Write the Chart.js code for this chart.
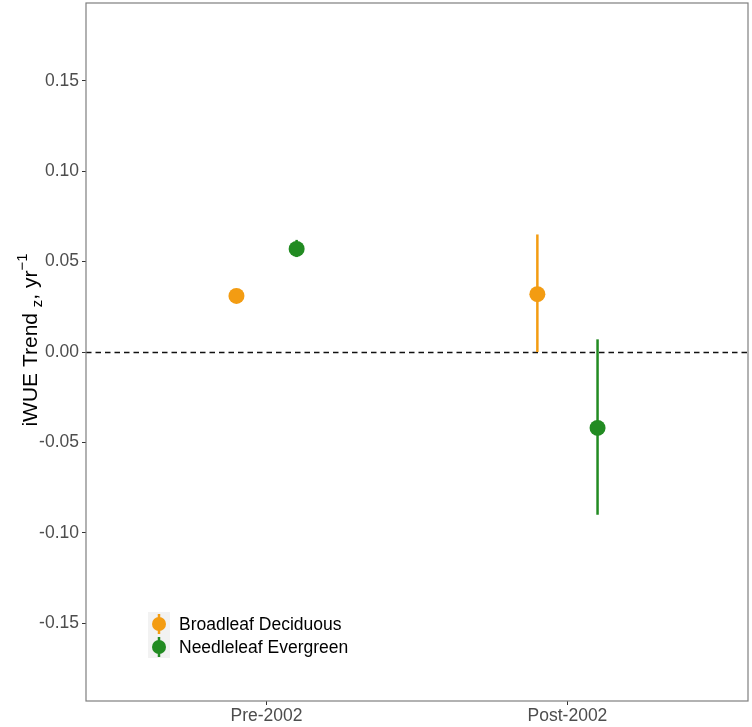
<!DOCTYPE html>
<html>
<head>
<meta charset="utf-8">
<script src="https://cdn.jsdelivr.net/npm/chart.js@4"></script>
<style>
  html, body { margin: 0; padding: 0; background: #fff; }
  #wrap { width: 752px; height: 727px; }
</style>
</head>
<body>
<div id="wrap"><canvas id="myChart" width="752" height="727"></canvas></div>
<script>
// chart data
const categories = ['Pre-2002', 'Post-2002'];
const groups = ['Broadleaf Deciduous', 'Needleleaf Evergreen'];
const broadleafMean = [0.031, 0.032];
const broadleafLow = [0.030, 0.000];
const broadleafHigh = [0.032, 0.065];
const needleMean = [0.057, -0.042];
const needleLow = [0.0525, -0.090];
const needleHigh = [0.062, 0.007];
const yTicks = [-0.15, -0.10, -0.05, 0.00, 0.05, 0.10, 0.15];

const colors = ['#F39C12', '#228B22'];
const dodge = [-0.1, 0.1];
const fontFamily = '"Liberation Sans", Arial, sans-serif';

function makePoints(mean, low, high, k) {
    return mean.map((m, i) => ({ x: i + 1 + dodge[k], y: m, lo: low[i], hi: high[i] }));
}

// error bars + zero line + panel border
const extras = {
    id: 'extras',
    beforeDatasetsDraw(chart) {
        const ctx = chart.ctx, area = chart.chartArea;
        const xs = chart.scales.x, ys = chart.scales.y;
        ctx.save();
        // dashed zero line
        const y0 = Math.round(ys.getPixelForValue(0)) + 0.5;
        ctx.strokeStyle = '#111';
        ctx.lineWidth = 1.3;
        ctx.setLineDash([5.5, 4]);
        ctx.beginPath();
        ctx.moveTo(area.left, y0);
        ctx.lineTo(area.right, y0);
        ctx.stroke();
        ctx.setLineDash([]);
        chart.data.datasets.forEach((ds, k) => {
            ctx.strokeStyle = colors[k];
            ctx.lineWidth = 2.5;
            ds.data.forEach(p => {
                const px = xs.getPixelForValue(p.x);
                ctx.beginPath();
                ctx.moveTo(px, ys.getPixelForValue(p.lo));
                ctx.lineTo(px, ys.getPixelForValue(p.hi));
                ctx.stroke();
            });
        });
        ctx.restore();
    },
    afterDraw(chart) {
        const ctx = chart.ctx, area = chart.chartArea;
        ctx.save();
        ctx.strokeStyle = '#7f7f7f';
        ctx.lineWidth = 1.2;
        ctx.strokeRect(area.left, area.top, area.right - area.left, area.bottom - area.top);

        // y axis title with subscript and superscript
        ctx.translate(29, 340);
        ctx.rotate(-Math.PI / 2);
        ctx.fillStyle = '#000';
        ctx.textBaseline = 'alphabetic';
        const big = '21px ' + fontFamily;
        const small = '15px ' + fontFamily;
        const parts = [
            { t: 'iWUE Trend ', f: big, dy: 0 },
            { t: 'z', f: small, dy: 5 },
            { t: ', yr', f: big, dy: 0 },
            { t: '\u22121', f: small, dy: -10 }
        ];
        let w = 0;
        parts.forEach(p => { ctx.font = p.f; w += ctx.measureText(p.t).width; });
        let x = -w / 2;
        parts.forEach(p => {
            ctx.font = p.f;
            ctx.fillText(p.t, x, 8 + p.dy);
            x += ctx.measureText(p.t).width;
        });
        ctx.restore();

        // legend inside panel
        ctx.save();
        ctx.fillStyle = '#F2F2F2';
        ctx.fillRect(148, 612, 22, 46);
        groups.forEach((g, k) => {
            const cy = 624 + k * 23;
            ctx.strokeStyle = colors[k];
            ctx.lineWidth = 2.5;
            ctx.beginPath();
            ctx.moveTo(159, cy - 10);
            ctx.lineTo(159, cy + 10);
            ctx.stroke();
            ctx.fillStyle = colors[k];
            ctx.beginPath();
            ctx.arc(159, cy, 7, 0, Math.PI * 2);
            ctx.fill();
            ctx.fillStyle = '#000';
            ctx.font = '17.5px ' + fontFamily;
            ctx.textBaseline = 'middle';
            ctx.fillText(g, 179, cy + 1);
        });
        ctx.restore();
    }
};

let ctx = document.getElementById('myChart').getContext('2d');
let myChart = new Chart(ctx, {
    type: 'scatter',
    data: {
        datasets: [
            { label: groups[0], data: makePoints(broadleafMean, broadleafLow, broadleafHigh, 0),
              backgroundColor: colors[0], borderColor: colors[0], pointRadius: 8, pointBorderWidth: 0 },
            { label: groups[1], data: makePoints(needleMean, needleLow, needleHigh, 1),
              backgroundColor: colors[1], borderColor: colors[1], pointRadius: 8, pointBorderWidth: 0 }
        ]
    },
    options: {
        responsive: false,
        animation: false,
        layout: { autoPadding: false, padding: { top: 3, right: 4, left: 0, bottom: 0 } },
        plugins: { legend: { display: false }, tooltip: { enabled: false } },
        scales: {
            x: {
                type: 'linear', min: 0.4, max: 2.6,
                afterBuildTicks: s => { s.ticks = categories.map((c, i) => ({ value: i + 1 })); },
                afterFit: s => { s.height = 26; s.paddingLeft = 0; s.paddingRight = 0; },
                ticks: {
                    callback: v => categories[v - 1] || '',
                    color: '#4d4d4d', font: { size: 17.5, family: fontFamily },
                    padding: 1, maxRotation: 0
                },
                grid: { drawOnChartArea: false, tickLength: 4, color: '#333' },
                border: { display: false }
            },
            y: {
                min: -0.193, max: 0.193,
                afterBuildTicks: s => { s.ticks = yTicks.map(v => ({ value: v })); },
                afterFit: s => { s.width = 86; s.paddingTop = 0; s.paddingBottom = 0; },
                ticks: {
                    callback: v => v.toFixed(2),
                    color: '#4d4d4d', font: { size: 17.5, family: fontFamily },
                    padding: 3
                },
                grid: { drawOnChartArea: false, tickLength: 4, color: '#333' },
                border: { display: false }
            }
        }
    },
    plugins: [extras]
});
</script>
</body>
</html>
